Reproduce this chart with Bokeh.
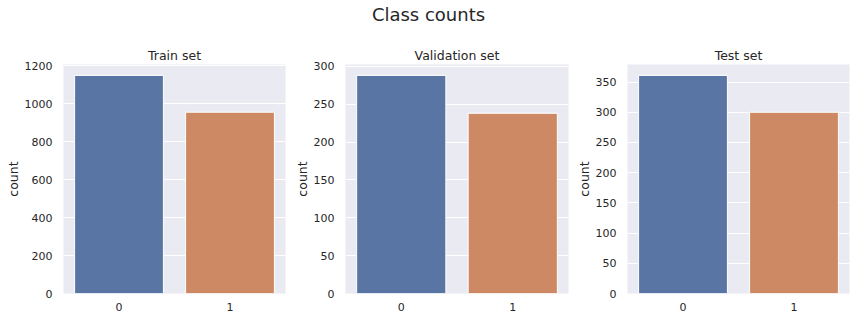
from bokeh.plotting import figure
from bokeh.layouts import row, column
from bokeh.models import Range1d, FactorRange, FixedTicker, ColumnDataSource
from bokeh.core.properties import value
from bokeh.embed import file_html
from bokeh.resources import INLINE

# ---- data ----
classes = ["0", "1"]
train_counts = [1150, 956]
val_counts = [288, 238]
test_counts = [361, 300]
panel_titles = ["Train set", "Validation set", "Test set"]
train_ticks = [0, 200, 400, 600, 800, 1000, 1200]
val_ticks = [0, 50, 100, 150, 200, 250, 300]
test_ticks = [0, 50, 100, 150, 200, 250, 300, 350]
suptitle = "Class counts"
y_label = "count"

# ---- style ----
FONT = "DejaVu Sans"
TXT = "#262626"
BG = "#EAEAF2"
bar_colors = ["#5975A4", "#CC8963"]


def panel(counts, ticks, title, left, fw, right):
    src = ColumnDataSource(dict(cls=classes, n=counts, color=bar_colors))
    p = figure(
        x_range=FactorRange(*classes, range_padding=0),
        y_range=Range1d(0, max(counts) * 1.05),
        frame_width=fw, frame_height=229,
        min_border_left=left, min_border_right=right,
        min_border_top=30, min_border_bottom=27,
        toolbar_location=None, output_backend="svg",
        title=title,
    )
    p.vbar(x="cls", top="n", width=0.8, fill_color="color",
           line_color="white", line_width=1, source=src)
    p.background_fill_color = BG
    p.border_fill_color = "white"
    p.outline_line_color = None
    p.xgrid.grid_line_color = None
    p.ygrid.grid_line_color = "white"
    p.ygrid.grid_line_width = 1
    p.yaxis.ticker = FixedTicker(ticks=ticks)
    for ax in (p.xaxis[0], p.yaxis[0]):
        ax.axis_line_color = None
        ax.major_tick_line_color = None
        ax.minor_tick_line_color = None
        ax.major_tick_out = 0
        ax.major_tick_in = 0
        ax.minor_tick_out = 0
        ax.minor_tick_in = 0
        ax.major_label_text_font = FONT
        ax.major_label_text_font_size = "11px"
        ax.major_label_text_color = TXT
    p.xaxis.major_label_standoff = 9
    p.yaxis.major_label_standoff = 11
    p.yaxis.axis_label = y_label
    p.yaxis.axis_label_text_font = FONT
    p.yaxis.axis_label_text_font_size = "12.5px"
    p.yaxis.axis_label_text_font_style = "normal"
    p.yaxis.axis_label_text_color = TXT
    p.yaxis.axis_label_standoff = 1
    p.title.text_font = FONT
    p.title.text_font_size = "12.5px"
    p.title.text_font_style = "normal"
    p.title.text_color = TXT
    p.title.align = "center"
    p.title.standoff = 4
    return p


p1 = panel(train_counts, train_ticks, panel_titles[0], 63, 222, 3)
p2 = panel(val_counts, val_ticks, panel_titles[1], 57, 223, 2)
p3 = panel(test_counts, test_ticks, panel_titles[2], 57, 222, 7)

top = figure(frame_width=856, frame_height=34, x_range=Range1d(0, 1),
             y_range=Range1d(0, 1), min_border=0,
             toolbar_location=None, output_backend="svg")
top.text(x=[0.5], y=[0.6], text=[suptitle], text_font=value(FONT),
         text_font_size="18px", text_color=TXT, text_align="center",
         text_baseline="middle")
top.axis.visible = False
top.grid.visible = False
top.outline_line_color = None
top.background_fill_color = "white"
top.border_fill_color = "white"

layout = column(top, row(p1, p2, p3, spacing=0), spacing=0)

with open("out.html", "w") as f:
    f.write(file_html(layout, INLINE))
